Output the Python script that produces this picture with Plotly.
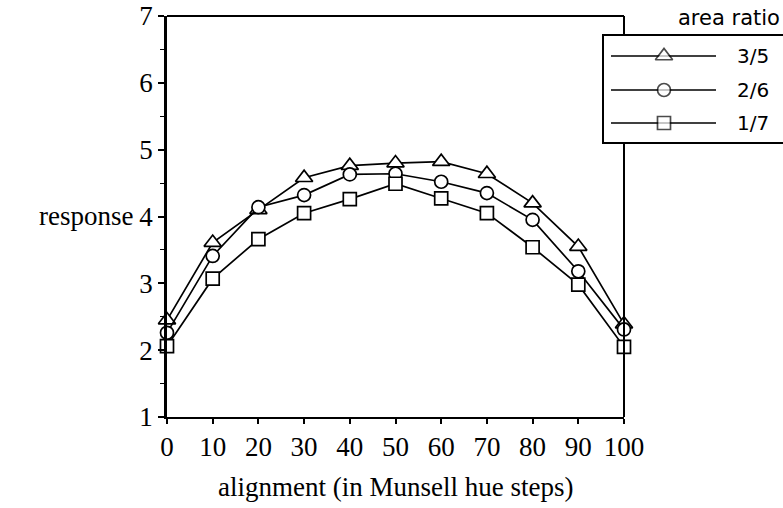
import plotly.graph_objects as go

# Alignment in Munsell hue steps and mean response per area ratio
alignment = [0, 10, 20, 30, 40, 50, 60, 70, 80, 90, 100]
ratio_labels = ["3/5", "2/6", "1/7"]
resp_3_5 = [2.45, 3.61, 4.10, 4.58, 4.76, 4.80, 4.82, 4.64, 4.20, 3.55, 2.39]
resp_2_6 = [2.26, 3.41, 4.14, 4.32, 4.63, 4.64, 4.52, 4.35, 3.95, 3.18, 2.31]
resp_1_7 = [2.06, 3.07, 3.66, 4.05, 4.26, 4.49, 4.27, 4.05, 3.54, 2.98, 2.05]
x_ticks = [0, 10, 20, 30, 40, 50, 60, 70, 80, 90, 100]
y_ticks = [1, 2, 3, 4, 5, 6, 7]

W, H = 783, 508
L, R, T, B = 167, 624, 16, 417  # plot area edges in pixels

SERIF = "Liberation Serif"
SANS = "DejaVu Sans"
symbols = ["triangle-up", "circle", "square"]
sizes = [15, 13, 13]
series = [resp_3_5, resp_2_6, resp_1_7]
LW = 1.7

fig = go.Figure()
for vals, sym, sz, name in zip(series, symbols, sizes, ratio_labels):
    fig.add_trace(go.Scatter(
        x=alignment, y=vals, mode="lines+markers", name=name,
        line=dict(color="black", width=LW),
        marker=dict(symbol=sym, size=sz, color="white",
                    line=dict(color="black", width=LW)),
        cliponaxis=False, showlegend=False,
    ))

# Key: drawn on a full-page pixel axis (x2/y2)
row_y = [56, 90, 123]
for yy in row_y:
    fig.add_trace(go.Scatter(
        x=[611, 716], y=[yy, yy], mode="lines", xaxis="x2", yaxis="y2",
        line=dict(color="black", width=LW), showlegend=False, hoverinfo="skip",
    ))
fig.add_trace(go.Scatter(
    x=[664, 664, 664], y=row_y, mode="markers", xaxis="x2", yaxis="y2",
    marker=dict(symbol=symbols, size=sizes, color="white",
                line=dict(color="black", width=LW)),
    showlegend=False, hoverinfo="skip",
))

ref = dict(xref="x2", yref="y2")
shapes = [
    # top and right frame edges, interrupted by the key box
    dict(type="line", x0=L, x1=R, y0=T, y1=T, line=dict(color="black", width=2), **ref),
    dict(type="line", x0=R, x1=R, y0=T, y1=35, line=dict(color="black", width=2), **ref),
    dict(type="line", x0=R, x1=R, y0=143, y1=B, line=dict(color="black", width=2), **ref),
    # key box
    dict(type="rect", x0=603, x1=800, y0=35, y1=143, line=dict(color="black", width=2), **ref),
]

annotations = [
    dict(text="area ratio", x=782, y=18, xanchor="right", yanchor="middle", showarrow=False,
         font=dict(family=SANS, size=21, color="black"), **ref),
    dict(text="response", x=86, y=216, xanchor="center", yanchor="middle", showarrow=False,
         font=dict(family=SERIF, size=27, color="black"), **ref),
    dict(text="alignment (in Munsell hue steps)", x=(L + R) / 2, y=487,
         xanchor="center", yanchor="middle", showarrow=False,
         font=dict(family=SERIF, size=27, color="black"), **ref),
]
for yy, lab in zip(row_y, ratio_labels):
    annotations.append(dict(text=lab, x=735, y=yy, xanchor="left", yanchor="middle",
                            showarrow=False, font=dict(family=SANS, size=20, color="black"),
                            **ref))

fig.update_layout(
    width=W, height=H,
    margin=dict(l=0, r=0, t=0, b=0, autoexpand=False),
    paper_bgcolor="white", plot_bgcolor="rgba(0,0,0,0)",
    showlegend=False,
    shapes=shapes, annotations=annotations,
    xaxis=dict(domain=[L / W, R / W], anchor="y", range=[0, 100], tickvals=x_ticks,
               ticks="outside", ticklen=5, tickwidth=1.5, tickcolor="black",
               showline=True, linecolor="black", linewidth=2,
               showgrid=False, zeroline=False,
               tickfont=dict(family=SERIF, size=27, color="black")),
    yaxis=dict(domain=[1 - B / H, 1 - T / H], anchor="x", range=[1, 7], tickvals=y_ticks,
               ticks="outside", ticklen=6, tickwidth=1.5, tickcolor="black",
               showline=True, linecolor="black", linewidth=2.5,
               showgrid=False, zeroline=False,
               minor=dict(dtick=0.5, ticks="outside", ticklen=4, tickwidth=1.2,
                          tickcolor="black"),
               tickfont=dict(family=SERIF, size=27, color="black")),
    xaxis2=dict(domain=[0, 1], anchor="y2", range=[0, W], visible=False),
    yaxis2=dict(domain=[0, 1], anchor="x2", range=[H, 0], visible=False),
)

fig.write_html("out.html")
